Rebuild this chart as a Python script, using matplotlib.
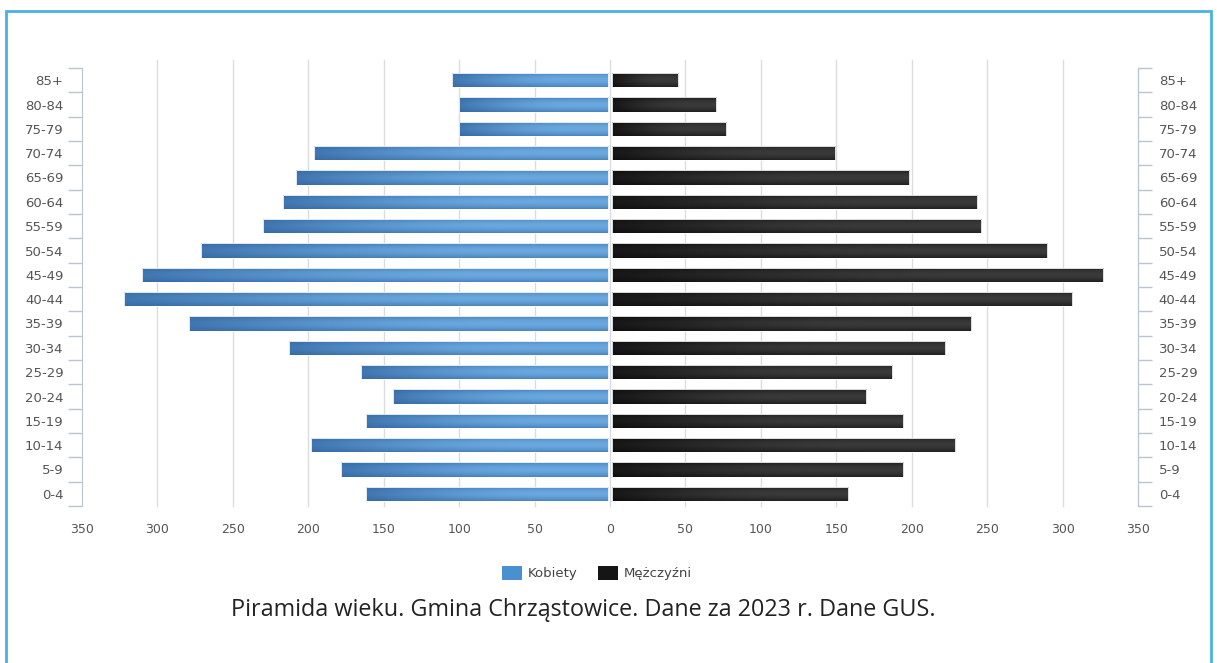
import matplotlib.pyplot as plt
import matplotlib.colors as mcolors
import numpy as np
from matplotlib.patches import Rectangle

# dane: grupy wieku (od najmłodszej) i liczby osób
age_groups = ['0-4', '5-9', '10-14', '15-19', '20-24', '25-29', '30-34', '35-39',
              '40-44', '45-49', '50-54', '55-59', '60-64', '65-69', '70-74',
              '75-79', '80-84', '85+']
kobiety = [162, 178, 198, 162, 144, 165, 213, 279, 322, 310, 271, 230, 217, 208, 196, 100, 100, 105]
mezczyzni = [157, 193, 228, 193, 169, 186, 221, 238, 305, 326, 289, 245, 242, 197, 148, 76, 69, 44]
x_ticks = [-350, -300, -250, -200, -150, -100, -50, 0, 50, 100, 150, 200, 250, 300, 350]
caption = 'Piramida wieku. Gmina Chrząstowice. Dane za 2023 r. Dane GUS.'

blue_dark = np.array(mcolors.to_rgb('#2b5d97'))
blue_light = np.array(mcolors.to_rgb('#6aa8e0'))
black_dark = np.array(mcolors.to_rgb('#050505'))
black_light = np.array(mcolors.to_rgb('#3a3a3a'))
tick_col = '#555555'
axis_col = '#b8c4d0'

fig = plt.figure(figsize=(12.17, 6.63), dpi=100)

# niebieska ramka dookoła
fig.patches.append(Rectangle((6 / 1217, -0.05), 1205 / 1217, 1.05 - 11 / 663,
                             transform=fig.transFigure, fill=False,
                             edgecolor='#4bb0e3', linewidth=2))

ax = fig.add_axes([82 / 1217, 1 - 506 / 663, (1138 - 82) / 1217, (506 - 68) / 663])
y = np.arange(len(age_groups))
bar_h = 0.58


def gradient_bar(ax, x0, width, yc, c_dark, c_light):
    bar = ax.barh(yc, width, left=x0, height=bar_h, color='none', edgecolor='none')[0]
    nh, nv = 64, 16
    t = np.linspace(0, 1, nh)
    h = 0.35 + 0.65 * np.sin(np.pi * np.clip(t * 1.3, 0, 1) / 2)
    v = 0.55 + 0.45 * np.sin(np.pi * np.linspace(0, 1, nv))
    mix = np.outer(v, h)[..., None]
    img = c_dark + (c_light - c_dark) * mix
    im = ax.imshow(img, extent=(x0, x0 + width, yc - bar_h / 2, yc + bar_h / 2),
                   aspect='auto', origin='lower', zorder=3, interpolation='bilinear')
    im.set_clip_path(bar)
    ax.add_patch(Rectangle((x0, yc - bar_h / 2), width, bar_h, fill=False,
                           edgecolor='white', linewidth=0.6, zorder=4))


for yi, k, m in zip(y, kobiety, mezczyzni):
    gradient_bar(ax, -k, k - 1, yi, blue_dark, blue_light)
    gradient_bar(ax, 1, m, yi, black_dark, black_light)

ax.set_xlim(-350, 350)
ax.set_ylim(-0.5, len(age_groups) - 0.5)

# siatka pionowa (trochę wychodzi ponad wykres)
for xv in x_ticks[1:-1]:
    ax.plot([xv, xv], [-0.5, len(age_groups) - 0.5 + 0.33], color='#dcdcdc',
            linewidth=1, zorder=1, clip_on=False)

ax.set_xticks(x_ticks)
ax.set_xticklabels([str(abs(v)) for v in x_ticks])
ax.tick_params(axis='x', length=0, labelsize=9, labelcolor=tick_col, pad=12)

ax.set_yticks(y)
ax.set_yticklabels(age_groups)
ax.set_yticks(np.arange(-0.5, len(age_groups)), minor=True)
ax.tick_params(axis='y', which='major', length=0, labelsize=9.5, labelcolor=tick_col, pad=13.5)
ax.tick_params(axis='y', which='minor', length=10, color=axis_col, width=1)

for side in ['top', 'bottom']:
    ax.spines[side].set_visible(False)
for side in ['left', 'right']:
    ax.spines[side].set_color(axis_col)

ax2 = ax.twinx()
ax2.set_ylim(ax.get_ylim())
ax2.set_yticks(y)
ax2.set_yticklabels(age_groups)
ax2.set_yticks(np.arange(-0.5, len(age_groups)), minor=True)
ax2.tick_params(axis='y', which='major', length=0, labelsize=9.5, labelcolor=tick_col, pad=15)
ax2.tick_params(axis='y', which='minor', length=10, color=axis_col, width=1)
for side in ['top', 'bottom', 'left']:
    ax2.spines[side].set_visible(False)
ax2.spines['right'].set_color(axis_col)

# legenda
leg_y = 1 - 573 / 663
fig.patches.append(Rectangle((502 / 1217, leg_y - 7 / 663), 20 / 1217, 14 / 663,
                             transform=fig.transFigure, facecolor='#4a8fd0', edgecolor='none'))
fig.text(528 / 1217, leg_y, 'Kobiety', fontsize=9.5, color='#444444', va='center')
fig.patches.append(Rectangle((598 / 1217, leg_y - 7 / 663), 20 / 1217, 14 / 663,
                             transform=fig.transFigure, facecolor='#151515', edgecolor='none'))
fig.text(624 / 1217, leg_y, 'Mężczyźni', fontsize=9.5, color='#444444', va='center')

# podpis
fig.text(583 / 1217, 1 - 610 / 663, caption, fontsize=16.8, family='Open Sans',
         color='#222222', ha='center', va='center')

fig.savefig('out.png', dpi=100)
